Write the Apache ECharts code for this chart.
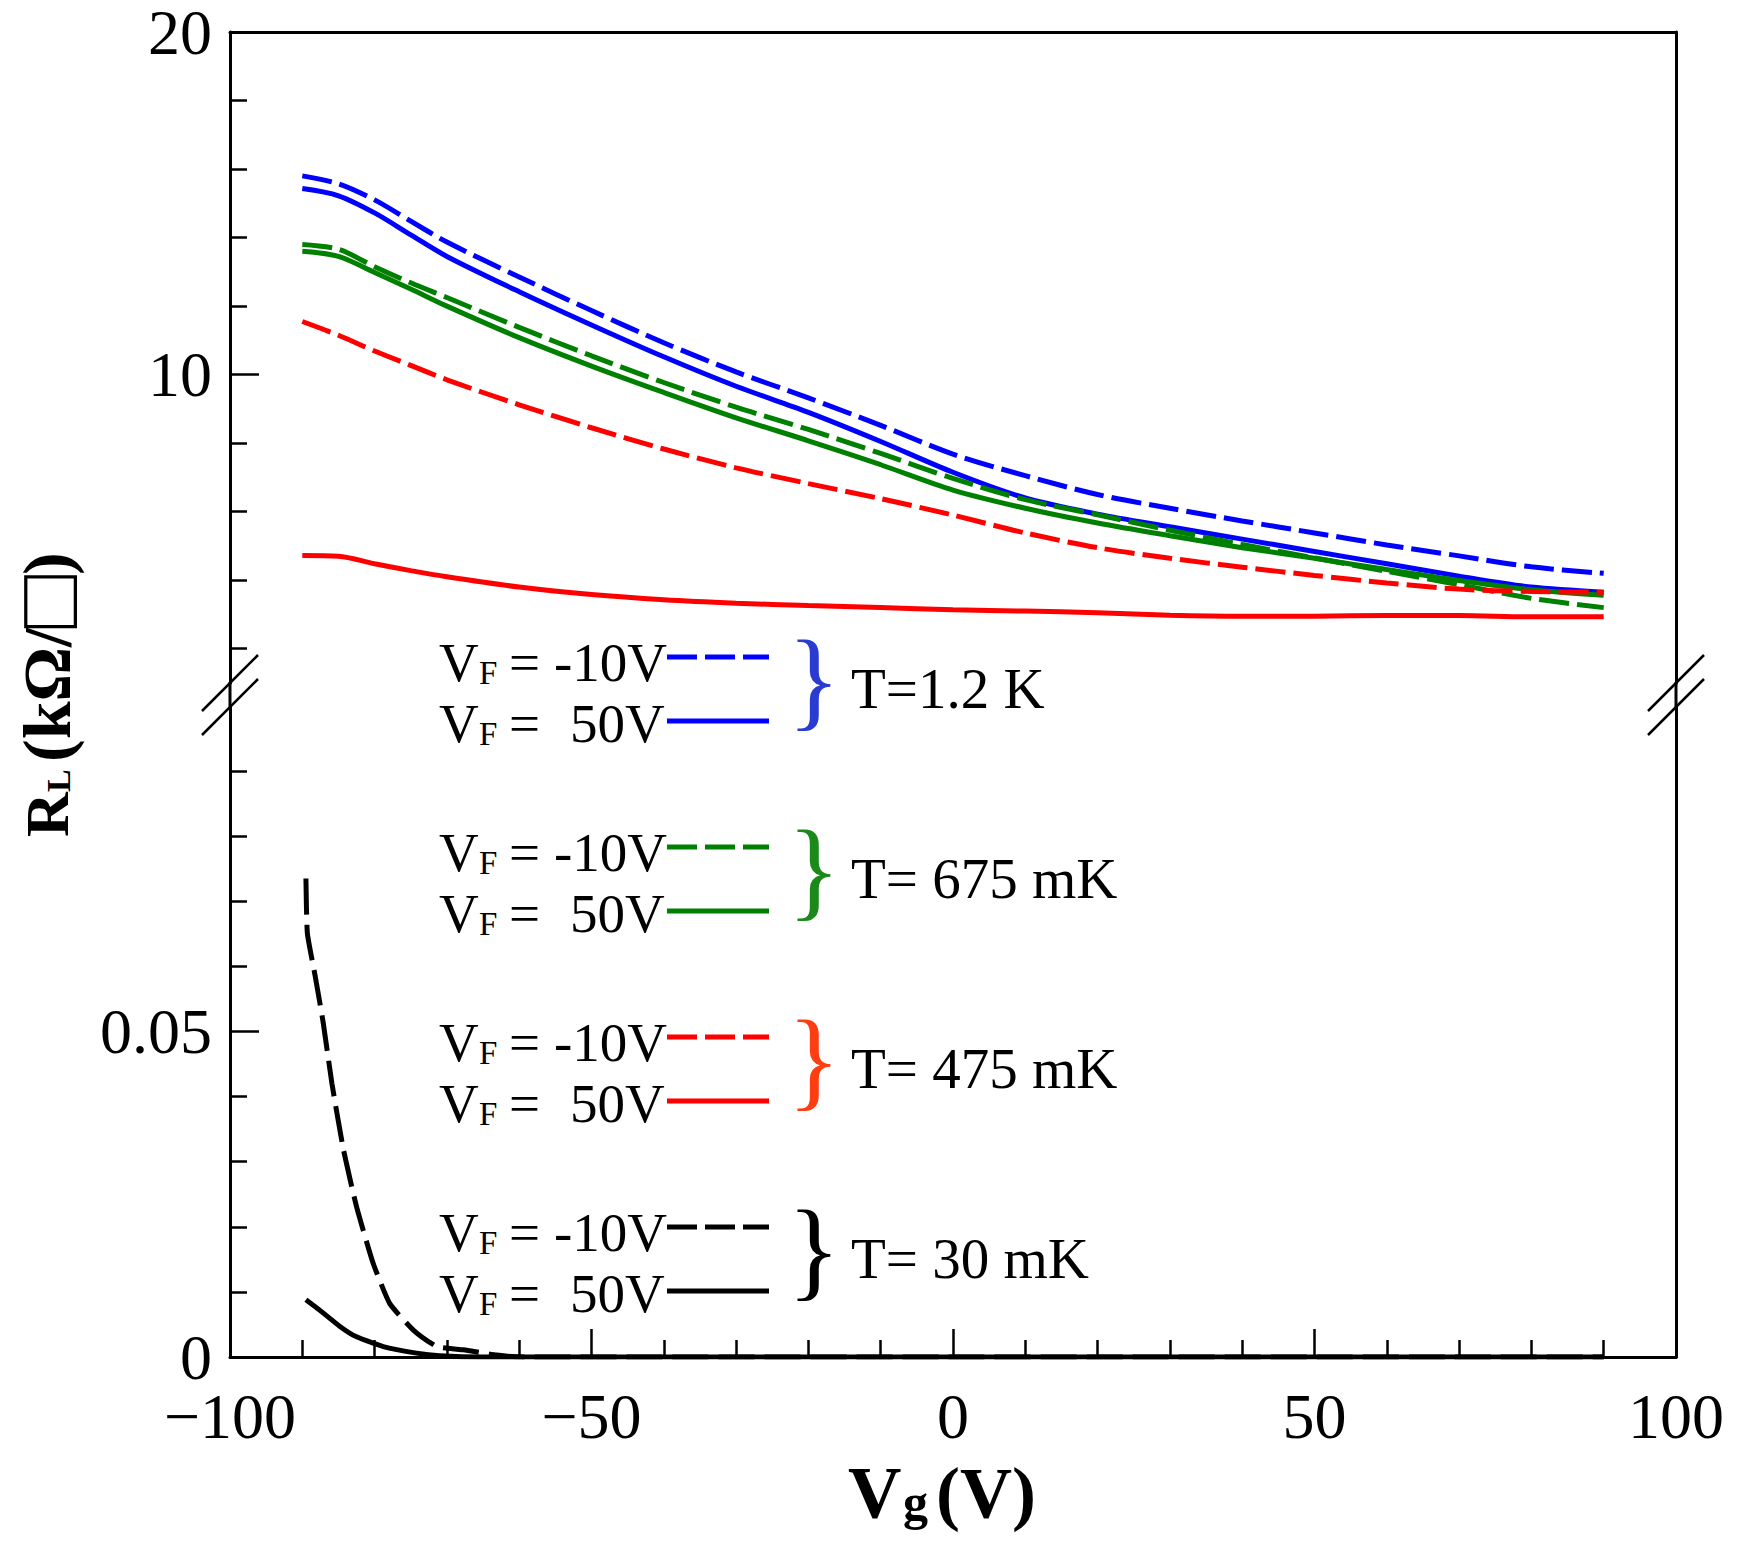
<!DOCTYPE html>
<html>
<head>
<meta charset="utf-8">
<title>RL vs Vg</title>
<script src="https://cdn.jsdelivr.net/npm/echarts/dist/echarts.min.js"></script>
<style>
html, body { margin: 0; padding: 0; background: #ffffff; }
#chart_rl { width: 1760px; height: 1544px; }
</style>
</head>
<body>
<div id="chart_rl"></div>
<script>
// gate voltage samples used by the upper (kOhm) curves
var vg = [-90, -85, -80, -75, -70, -60, -50, -40, -30, -20, -10, 0, 10, 20, 30, 40, 50, 60, 70, 80, 90];

// T = 1.2 K
var rl1200mK_m10 = [15.8, 15.57, 15.1, 14.48, 13.87, 12.85, 11.87, 10.93, 10.08, 9.32, 8.52, 7.68, 7.05, 6.5, 6.1, 5.73, 5.38, 5.03, 4.71, 4.39, 4.2];
var rl1200mK_50 = [15.43, 15.22, 14.72, 14.08, 13.45, 12.42, 11.45, 10.52, 9.66, 8.9, 8.05, 7.15, 6.4, 5.93, 5.56, 5.2, 4.84, 4.48, 4.12, 3.8, 3.65];
// T = 675 mK
var rl675mK_m10 = [13.8, 13.66, 13.15, 12.68, 12.25, 11.38, 10.55, 9.77, 9.05, 8.4, 7.7, 6.97, 6.35, 5.91, 5.46, 5.04, 4.65, 4.26, 3.87, 3.47, 3.2];
var rl675mK_50 = [13.6, 13.45, 12.98, 12.5, 12.0, 11.08, 10.25, 9.48, 8.74, 8.07, 7.37, 6.63, 6.1, 5.67, 5.3, 4.95, 4.64, 4.31, 3.99, 3.72, 3.56];
// T = 475 mK
var rl475mK_m10 = [11.55, 11.15, 10.69, 10.27, 9.85, 9.12, 8.45, 7.83, 7.28, 6.82, 6.38, 5.9, 5.38, 4.95, 4.64, 4.38, 4.14, 3.92, 3.74, 3.67, 3.65];
var rl475mK_50 = [4.72, 4.7, 4.48, 4.28, 4.1, 3.8, 3.58, 3.43, 3.33, 3.26, 3.2, 3.14, 3.1, 3.05, 2.98, 2.95, 2.95, 2.97, 2.97, 2.93, 2.93];

// T = 30 mK (lower, broken part of the axis)
var vg30mK_m10 = [-89.5, -89.3, -88.2, -87.1, -85.9, -84.3, -82.5, -80.2, -77.9, -74.6, -71.4, -67.7, -63.1, -59.4, 90];
var rl30mK_m10 = [0.0735, 0.0651, 0.0584, 0.0513, 0.042, 0.0318, 0.0231, 0.0144, 0.0082, 0.0041, 0.0016, 0.0011, 0.0003, 0, 0];
var vg30mK_50 = [-89.5, -87.6, -84.8, -82.5, -78.8, -74.2, -71, -65, 90];
var rl30mK_50 = [0.0088, 0.0072, 0.0047, 0.0031, 0.0016, 0.0006, 0.0002, 0, 0];

// tick values
var upperMajor = [10, 20];
var upperMinor = [2, 4, 6, 8, 12, 14, 16, 18];
var lowerMajor = [0, 0.05];
var lowerMinor = [0.01, 0.02, 0.03, 0.04, 0.06, 0.07, 0.08, 0.09];

// legend texts
var legendTemps = ['T=1.2 K', 'T= 675 mK', 'T= 475 mK', 'T= 30 mK'];
var legendColors = ['#0000ff', '#008000', '#ff0000', '#000000'];
var braceColors = ['#2a3bd2', '#1b8a1b', '#ff3d10', '#000000'];

var FONT = 'Liberation Serif';
var DASH = [30, 8];
var DASH_30MK = [36, 10];

function pairs(xs, ys) {
    var out = [];
    for (var i = 0; i < xs.length; i++) {
        out.push([xs[i], ys[i]]);
    }
    return out;
}

/**
 * one curve
 */
function curve(name, xs, ys, color, dashed, lower) {
    return {
        name: name,
        type: 'line',
        xAxisIndex: lower ? 1 : 0,
        yAxisIndex: lower ? 3 : 0,
        data: pairs(xs, ys),
        showSymbol: false,
        smooth: lower ? 0.15 : 0.3,
        silent: true,
        animation: false,
        lineStyle: {
            color: color,
            width: 5,
            type: dashed ? (lower ? DASH_30MK : DASH) : 'solid'
        }
    };
}

function vAxis(gridIndex, min, max, pos, tickVals, tickLen, labelVals, showLine) {
    return {
        type: 'value',
        gridIndex: gridIndex,
        position: pos,
        min: min,
        max: max,
        axisLine: { show: showLine, onZero: false, lineStyle: { color: '#000', width: 3 } },
        axisTick: tickVals ? {
            show: true, inside: true, length: tickLen, customValues: tickVals,
            lineStyle: { color: '#000', width: 2.5 }
        } : { show: false },
        axisLabel: labelVals ? {
            show: true, customValues: labelVals, margin: 18, lineHeight: 56,
            fontFamily: FONT, fontSize: 64, color: '#000'
        } : { show: false },
        splitLine: { show: false }
    };
}

var graphics = [];

function txt(x, y, s, size, color, extra) {
    var el = {
        type: 'text', x: x, y: y, silent: true,
        style: {
            text: s, fontFamily: FONT, fontSize: size, fill: color || '#000',
            align: 'left', verticalAlign: 'middle'
        }
    };
    if (extra) {
        for (var k in extra) {
            if (k === 'style') {
                for (var j in extra.style) { el.style[j] = extra.style[j]; }
            } else {
                el[k] = extra[k];
            }
        }
    }
    graphics.push(el);
}

function seg(x1, y1, x2, y2, color, w, dash) {
    graphics.push({
        type: 'line', silent: true,
        shape: { x1: x1, y1: y1, x2: x2, y2: y2 },
        style: { stroke: color, lineWidth: w, lineDash: dash || null }
    });
}

// axis break: connect the frame lines and draw the slashes
seg(230, 682, 230, 707, '#000', 3);
seg(1676, 682, 1676, 707, '#000', 3);
seg(202, 711, 258, 655, '#000', 2.5);
seg(202, 735, 258, 679, '#000', 2.5);
seg(1648, 711, 1704, 655, '#000', 2.5);
seg(1648, 735, 1704, 679, '#000', 2.5);

// legend drawn by hand
var legendY = [657, 847, 1037, 1227];
for (var g = 0; g < 4; g++) {
    var b = legendY[g];
    var c = legendColors[g];
    // dashed row, VF = -10V
    txt(439, b + 5, 'V', 55);
    txt(479, b + 16, 'F', 33);
    txt(509, b + 5, '=', 55);
    txt(554, b + 5, '-10V', 55);
    seg(667, b, 769, b, c, 5, DASH);
    // solid row, VF = 50V
    txt(439, b + 66, 'V', 55);
    txt(479, b + 77, 'F', 33);
    txt(509, b + 66, '=', 55);
    txt(570, b + 66, '50V', 55);
    seg(667, b + 64, 769, b + 64, c, 5);
    // brace and temperature
    txt(814, b + 22, '}', 110, braceColors[g], { style: { align: 'center' } });
    txt(851, b + 31, legendTemps[g], 57);
}

// x title  Vg (V)
txt(848, 1493, 'V', 74, '#000', { style: { fontWeight: 'bold' } });
txt(903, 1502, 'g', 50, '#000', { style: { fontWeight: 'bold' } });
txt(936, 1493, '(V)', 72, '#000', { style: { fontWeight: 'bold' } });

// y title  RL (kΩ/□), rotated
txt(47, 837, 'R', 62, '#000', { rotation: Math.PI / 2, style: { fontWeight: 'bold' } });
txt(58, 792, 'L', 34, '#000', { rotation: Math.PI / 2, style: { fontWeight: 'bold' } });
txt(47, 762, '{a|(k\u03A9/}{b|\u25A1}{a|)}', 66, '#000', {
    rotation: Math.PI / 2,
    style: {
        fontWeight: 'bold',
        rich: {
            a: { fontFamily: FONT, fontSize: 68, fontWeight: 'bold', fill: '#000' },
            b: { fontFamily: FONT, fontSize: 88, fontWeight: 'bold', fill: '#000' }
        }
    }
});

var option_rl = {
    backgroundColor: '#ffffff',
    animation: false,
    grid: [
        { left: 230, right: 84, top: 30, height: 653 },
        { left: 230, right: 84, top: 706, height: 651 }
    ],
    xAxis: [
        {
            type: 'value', gridIndex: 0, position: 'top', min: -100, max: 100,
            axisLine: { show: true, onZero: false, lineStyle: { color: '#000', width: 3 } },
            axisTick: { show: false }, axisLabel: { show: false }, splitLine: { show: false }
        },
        {
            type: 'value', gridIndex: 1, position: 'bottom', min: -100, max: 100, interval: 50,
            axisLine: { show: true, onZero: false, lineStyle: { color: '#000', width: 3 } },
            axisTick: { show: true, inside: true, length: 28, lineStyle: { color: '#000', width: 2.5 } },
            minorTick: { show: true, splitNumber: 5, length: 17, lineStyle: { color: '#000', width: 2.5 } },
            axisLabel: {
                margin: 34, lineHeight: 50, fontFamily: FONT, fontSize: 64, color: '#000',
                formatter: function (v) { return v < 0 ? '\u2212' + (-v) : String(v); }
            },
            splitLine: { show: false }
        }
    ],
    yAxis: [
        vAxis(0, 1, 20, 'left', upperMajor, 29, upperMajor, true),
        vAxis(0, 1, 20, 'left', upperMinor, 17, null, false),
        vAxis(0, 1, 20, 'right', null, 0, null, true),
        vAxis(1, 0, 0.1, 'left', lowerMajor, 29, lowerMajor, true),
        vAxis(1, 0, 0.1, 'left', lowerMinor, 17, null, false),
        vAxis(1, 0, 0.1, 'right', null, 0, null, true)
    ],
    series: [
        curve('1.2K -10V', vg, rl1200mK_m10, '#0000ff', true, false),
        curve('1.2K 50V', vg, rl1200mK_50, '#0000ff', false, false),
        curve('675mK -10V', vg, rl675mK_m10, '#008000', true, false),
        curve('675mK 50V', vg, rl675mK_50, '#008000', false, false),
        curve('475mK -10V', vg, rl475mK_m10, '#ff0000', true, false),
        curve('475mK 50V', vg, rl475mK_50, '#ff0000', false, false),
        curve('30mK -10V', vg30mK_m10, rl30mK_m10, '#000000', true, true),
        curve('30mK 50V', vg30mK_50, rl30mK_50, '#000000', false, true)
    ],
    graphic: { elements: graphics }
};

var chart_rl = echarts.init(document.getElementById('chart_rl'), null, { renderer: 'svg' });
chart_rl.setOption(option_rl);
</script>
</body>
</html>
